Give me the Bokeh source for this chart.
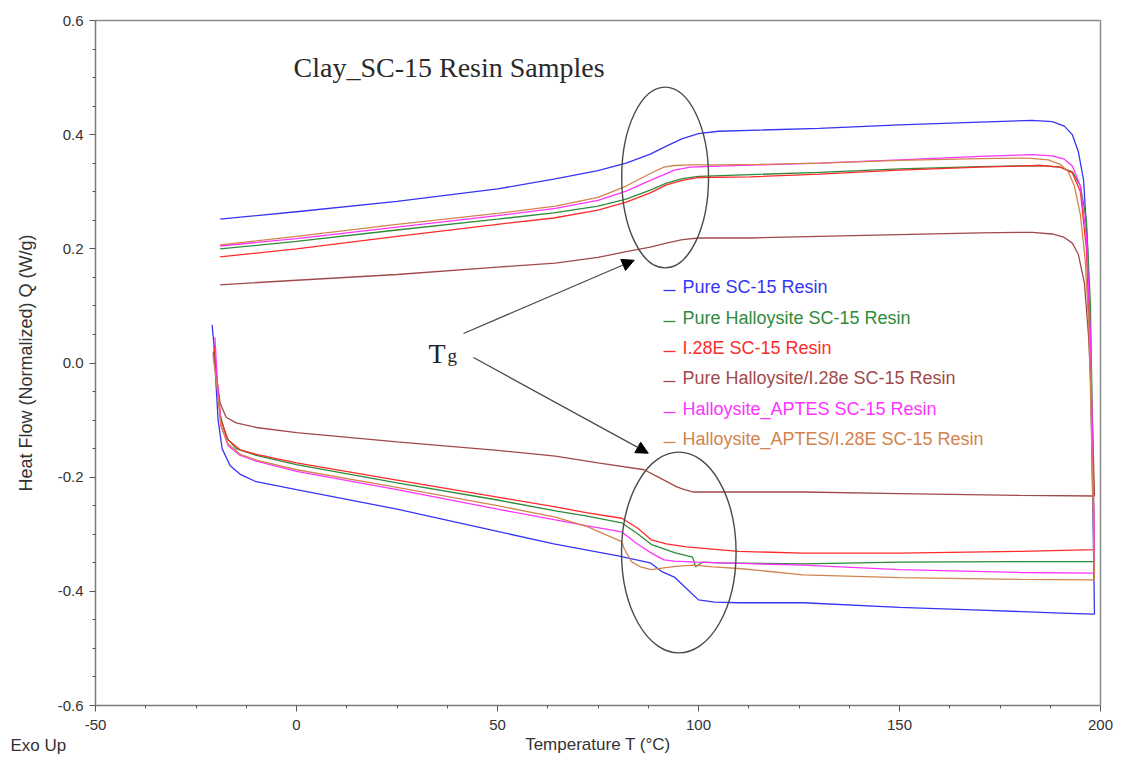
from bokeh.plotting import figure
from bokeh.models import (Range1d, FixedTicker, Label, Arrow, NormalHead, LinearAxis,
                          ColumnDataSource, PrintfTickFormatter)
from bokeh.core.properties import value
from bokeh.embed import file_html
from bokeh.resources import INLINE

# ---------------- data ----------------
names = ["Pure SC-15 Resin", "Pure Halloysite SC-15 Resin", "I.28E SC-15 Resin",
         "Pure Halloysite/I.28e SC-15 Resin", "Halloysite_APTES SC-15 Resin",
         "Halloysite_APTES/I.28E SC-15 Resin"]
colors = ["#3535F5", "#2E8B3A", "#FF2A2A", "#A24A4A", "#FF33FF", "#D2844E"]

# Pure SC-15 Resin (heating up, drop at 198, cooling back)
T_pure = [-19, 0, 25, 50, 64, 75, 82, 88, 92, 96, 100, 105, 115, 130, 150, 170, 183, 188, 191, 193,
          194.5, 195.8, 196.8, 197.5, 198.2, 198.5,
          198.3, 190, 170, 150, 126, 110, 104, 100, 97, 94, 91, 88, 80, 64, 50, 25, 0, -10, -14,
          -16.5, -18.5, -19.5, -20, -20.5, -21]
Q_pure = [0.252, 0.265, 0.283, 0.305, 0.322, 0.337, 0.350, 0.366, 0.380, 0.393, 0.402, 0.406, 0.408,
          0.411, 0.417, 0.422, 0.425, 0.423, 0.415, 0.400, 0.370, 0.320, 0.200, 0.000, -0.300, -0.440,
          -0.440, -0.438, -0.433, -0.428, -0.420, -0.420, -0.419, -0.415, -0.395, -0.375, -0.366,
          -0.350, -0.338, -0.317, -0.295, -0.256, -0.222, -0.208, -0.195, -0.180, -0.150, -0.100,
          -0.040, 0.030, 0.067]

# Pure Halloysite SC-15 Resin
T_hal = [-19, 0, 25, 50, 64, 75, 82, 88, 92, 96, 100, 113, 130, 150, 170, 185, 190, 193, 195, 196.5,
         197.5, 198.2, 198.5,
         198.5, 180, 150, 126, 105, 101, 99.3, 98.5, 94, 90, 88.3, 85, 80.9, 72, 64.4, 50, 25, 0,
         -10, -15, -17.5, -19, -20, -20.7]
Q_hal = [0.200, 0.213, 0.233, 0.252, 0.263, 0.275, 0.287, 0.303, 0.315, 0.323, 0.327, 0.330, 0.334,
         0.340, 0.344, 0.346, 0.343, 0.335, 0.310, 0.250, 0.100, -0.200, -0.348,
         -0.348, -0.348, -0.349, -0.352, -0.350, -0.349, -0.357, -0.340, -0.332, -0.322, -0.318,
         -0.300, -0.280, -0.268, -0.259, -0.240, -0.210, -0.178, -0.162, -0.150, -0.130, -0.090,
         -0.020, 0.020]

# I.28E SC-15 Resin
T_i28 = [-19, 0, 25, 50, 64, 75, 82, 88, 92, 96, 100, 113, 130, 150, 170, 185, 190, 193, 195, 196.5,
         197.5, 198.5,
         198.5, 180, 150, 126, 110, 97, 92, 88.3, 85, 80.9, 72, 64.4, 50, 25, 0, -10, -14, -17,
         -18.8, -19.8, -20.5]
Q_i28 = [0.186, 0.200, 0.222, 0.243, 0.254, 0.268, 0.282, 0.298, 0.312, 0.320, 0.325, 0.326, 0.331,
         0.338, 0.343, 0.346, 0.343, 0.333, 0.300, 0.200, 0.000, -0.327,
         -0.327, -0.330, -0.333, -0.333, -0.330, -0.322, -0.317, -0.310, -0.290, -0.272, -0.262,
         -0.252, -0.235, -0.205, -0.175, -0.160, -0.152, -0.135, -0.100, -0.030, 0.030]

# Pure Halloysite/I.28e SC-15 Resin
T_hi = [-19, 0, 25, 50, 64.4, 75, 82, 88, 92, 96, 100, 113, 130, 150, 170, 183, 188, 191, 193, 194.5,
        196, 197, 198, 198.5,
        198.5, 180, 150, 126, 110, 98.8, 96.5, 94.6, 90, 86.5, 75, 64.4, 50, 25, 0, -10, -15, -17.5,
        -19, -20, -20.6]
Q_hi = [0.137, 0.145, 0.155, 0.168, 0.175, 0.185, 0.195, 0.203, 0.210, 0.216, 0.219, 0.219, 0.222,
        0.225, 0.228, 0.229, 0.226, 0.220, 0.210, 0.190, 0.140, 0.050, -0.100, -0.233,
        -0.233, -0.232, -0.229, -0.226, -0.226, -0.226, -0.222, -0.217, -0.200, -0.187, -0.175,
        -0.163, -0.153, -0.138, -0.122, -0.113, -0.105, -0.095, -0.070, -0.020, 0.020]

# Halloysite_APTES SC-15 Resin
T_apt = [-19, 0, 25, 50, 64.4, 75, 82, 88, 91.4, 94, 98, 105, 115, 130, 150, 170, 183, 188, 191, 193,
         195, 196.5, 197.5, 198.3, 198.5,
         198.5, 180, 150, 126, 110, 99.6, 94, 91.4, 88.3, 85, 80.9, 72, 64.4, 50, 25, 0, -10, -14,
         -17, -18.8, -19.7, -20.3]
Q_apt = [0.205, 0.218, 0.238, 0.258, 0.271, 0.285, 0.301, 0.320, 0.330, 0.338, 0.343, 0.345, 0.347,
         0.350, 0.356, 0.362, 0.365, 0.363, 0.357, 0.345, 0.310, 0.220, 0.050, -0.250, -0.368,
         -0.368, -0.367, -0.362, -0.354, -0.351, -0.349, -0.347, -0.345, -0.333, -0.318, -0.296,
         -0.285, -0.275, -0.256, -0.222, -0.190, -0.172, -0.162, -0.145, -0.110, -0.030, 0.045]

# Halloysite_APTES/I.28E SC-15 Resin
T_ai = [-19, 0, 25, 50, 64.4, 75, 82, 88, 91.4, 94, 98, 105, 115, 130, 150, 170, 182, 187, 190, 192,
        193.5, 195, 196.2, 197.2, 198, 198.5,
        198.5, 180, 150, 126, 110, 103.7, 98.8, 95, 91.4, 88.3, 85.5, 83.3, 81.5, 80.9, 76, 72.5,
        64.4, 50, 25, 0, -10, -14, -17, -18.8, -19.8, -20.8]
Q_ai = [0.207, 0.222, 0.243, 0.262, 0.275, 0.290, 0.310, 0.332, 0.343, 0.346, 0.347, 0.347, 0.348,
        0.350, 0.355, 0.358, 0.359, 0.356, 0.348, 0.335, 0.310, 0.260, 0.180, 0.050, -0.200, -0.380,
        -0.380, -0.379, -0.376, -0.371, -0.360, -0.357, -0.354, -0.356, -0.359, -0.362, -0.357,
        -0.348, -0.325, -0.313, -0.298, -0.287, -0.270, -0.250, -0.218, -0.187, -0.170, -0.160,
        -0.142, -0.110, -0.040, 0.015]

series_T = [T_pure, T_hal, T_i28, T_hi, T_apt, T_ai]
series_Q = [Q_pure, Q_hal, Q_i28, Q_hi, Q_apt, Q_ai]

x_lim = (-50, 200)
y_lim = (-0.6, 0.6)
x_ticks = [-50, 0, 50, 100, 150, 200]
x_minor = [-37.5, -25, -12.5, 12.5, 25, 37.5, 62.5, 75, 87.5, 112.5, 125, 137.5,
           162.5, 175, 187.5]
y_ticks = [-0.6, -0.4, -0.2, 0.0, 0.2, 0.4, 0.6]
y_minor = [-0.55, -0.5, -0.45, -0.35, -0.3, -0.25, -0.15, -0.1, -0.05,
           0.05, 0.1, 0.15, 0.25, 0.3, 0.35, 0.45, 0.5, 0.55]

# Tg highlight regions (center T, center Q, width, height)
tg_ellipses_x = [91.7, 95.1]
tg_ellipses_y = [0.325, -0.332]
tg_ellipses_w = [21.6, 28.5]
tg_ellipses_h = [0.317, 0.352]

# ---------------- layout (pixels) ----------------
W, H = 1114, 756
AX_LEFT, AX_RIGHT, AX_TOP, AX_BOTTOM = 95, 1100, 20, 705   # axes box in canvas px
px_x = (AX_RIGHT - AX_LEFT) / (x_lim[1] - x_lim[0])
px_y = (AX_BOTTOM - AX_TOP) / (y_lim[1] - y_lim[0])


def dx(px):
    return x_lim[0] + (px - AX_LEFT) / px_x


def dy(py):
    return y_lim[1] - (py - AX_TOP) / px_y


# the frame covers the whole canvas so that texts outside the axes box are not clipped
x_range = Range1d(dx(0), dx(W))
y_range = Range1d(dy(H), dy(0))

AX_FONT = "Liberation Sans"
p = figure(width=W, height=H, output_backend="svg", toolbar_location=None,
           x_range=x_range, y_range=y_range, x_axis_location=None, y_axis_location=None,
           min_border_left=0, min_border_right=0, min_border_top=0, min_border_bottom=0)
p.background_fill_color = "white"
p.border_fill_color = "white"
p.outline_line_color = None
p.grid.visible = False

xaxis = LinearAxis(fixed_location=y_lim[0], bounds=x_lim,
                   ticker=FixedTicker(ticks=x_ticks, minor_ticks=x_minor),
                   formatter=PrintfTickFormatter(format="%d"),
                   axis_label="Temperature T (°C)")
yaxis = LinearAxis(fixed_location=x_lim[0], bounds=y_lim,
                   ticker=FixedTicker(ticks=y_ticks, minor_ticks=y_minor),
                   formatter=PrintfTickFormatter(format="%.1f"),
                   axis_label="Heat Flow (Normalized) Q (W/g)")
for ax in (xaxis, yaxis):
    ax.axis_line_color = "#7a7a7a"
    ax.axis_line_width = 1.5
    ax.major_tick_line_color = "#555555"
    ax.minor_tick_line_color = "#555555"
    ax.major_tick_in = 0
    ax.major_tick_out = 6
    ax.minor_tick_in = 0
    ax.minor_tick_out = 3
    ax.major_label_text_font = AX_FONT
    ax.major_label_text_font_size = "15px"
    ax.major_label_text_color = "#333333"
    ax.axis_label_text_font = AX_FONT
    ax.axis_label_text_font_style = "normal"
    ax.axis_label_text_color = "#333333"
xaxis.axis_label_text_font_size = "17px"
yaxis.axis_label_text_font_size = "18px"
xaxis.major_label_standoff = 8
yaxis.major_label_standoff = 6
xaxis.axis_label_standoff = 2
yaxis.axis_label_standoff = 19
p.add_layout(xaxis, "below")
p.add_layout(yaxis, "left")

# box lines on top and right
top_ax = LinearAxis(fixed_location=y_lim[1], bounds=x_lim, ticker=FixedTicker(ticks=[]),
                    axis_line_color="#8a8a8a", axis_line_width=1.5)
right_ax = LinearAxis(fixed_location=x_lim[1], bounds=y_lim, ticker=FixedTicker(ticks=[]),
                      axis_line_color="#8a8a8a", axis_line_width=1.5)
p.add_layout(top_ax, "above")
p.add_layout(right_ax, "right")

for T, Q, c in zip(series_T, series_Q, colors):
    p.line(T, Q, line_color=c, line_width=1.3)

p.ellipse(x=tg_ellipses_x, y=tg_ellipses_y, width=tg_ellipses_w, height=tg_ellipses_h,
          fill_color=None, line_color="#4a4a4a", line_width=1.4)

# arrows from the Tg label to the two transitions
for (sx, sy), (xe, ye) in [((463, 333), (84.0, 0.180)), ((473, 357), (87.5, -0.158))]:
    p.add_layout(Arrow(end=NormalHead(size=12, fill_color="black", line_color="black"),
                       x_start=dx(sx), y_start=dy(sy), x_end=xe, y_end=ye,
                       line_color="#4a4a4a", line_width=1.3))

p.add_layout(Label(x=dx(428), y=dy(353), text="T", text_font="Liberation Serif",
                   text_font_size="28px", text_color="#222222", text_baseline="alphabetic"))
p.add_layout(Label(x=dx(447), y=dy(355), text="g", text_font="Liberation Serif",
                   text_font_size="19px", text_color="#222222", text_baseline="alphabetic"))

# title
p.add_layout(Label(x=dx(293), y=dy(67), text="Clay_SC-15 Resin Samples",
                   text_font="Liberation Serif", text_font_size="28px",
                   text_color="#2a2a2a", text_baseline="middle"))

# legend (coloured text rows)
leg_py = [286, 317, 347, 377, 408, 438]
leg = ColumnDataSource(dict(x=[dx(682)] * 6, y=[dy(v) for v in leg_py],
                            x0=[dx(663)] * 6, x1=[dx(675)] * 6,
                            ys=[dy(v + 4) for v in leg_py], text=names, color=colors))
p.segment(x0="x0", y0="ys", x1="x1", y1="ys", color="color", line_width=1.3, source=leg)
p.text(x="x", y="y", text="text", text_color="color", text_font=value(AX_FONT),
       text_font_size="18px", text_baseline="middle", source=leg)

# Exo Up (below-left, outside the axes box)
p.add_layout(Label(x=dx(10), y=dy(745), text="Exo Up",
                   text_font=AX_FONT, text_font_size="17px", text_color="#333333",
                   text_baseline="middle"))

open("out.html", "w").write(file_html(p, INLINE))
